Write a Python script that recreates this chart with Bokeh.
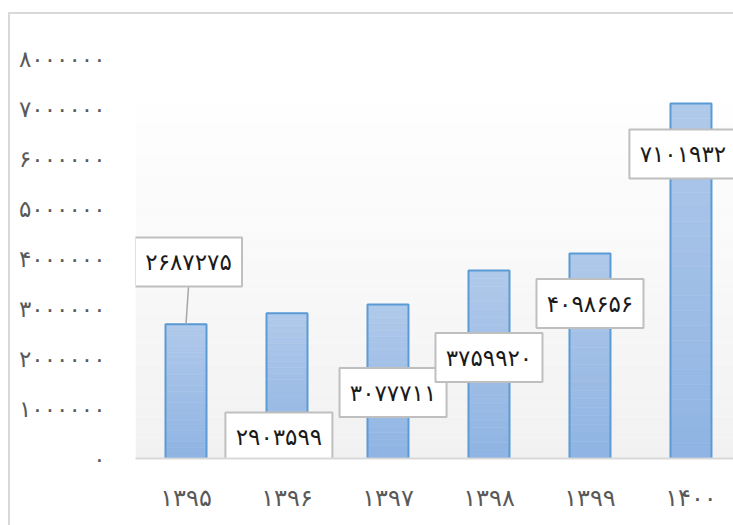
from bokeh.plotting import figure
from bokeh.models import Range1d, FixedTicker, BoxAnnotation, ColumnDataSource, InlineStyleSheet
from bokeh.core.properties import value
from bokeh.embed import file_html
from bokeh.resources import INLINE

# ---- data ----
years = ["1395", "1396", "1397", "1398", "1399", "1400"]
counts = [2687275, 2903599, 3077711, 3759920, 4098656, 7101932]
y_ticks = [0, 1000000, 2000000, 3000000, 4000000, 5000000, 6000000, 7000000, 8000000]

# label placement (Excel-style callouts): x offset in category units, centre y in value units
label_dx = [0.025, -0.08, 0.05, 0.0, 0.0, -0.08]
label_y = [3930000, 430000, 1320000, 2020000, 3100000, 6090000]

PERSIAN = str.maketrans("0123456789", "۰۱۲۳۴۵۶۷۸۹")


def fa(n):
    return str(n).translate(PERSIAN)


FONT = "DejaVu Sans"
Y_TOP = 8360000
PX_PER_UNIT = 418 / Y_TOP  # frame height / y-range span

p = figure(width=733, height=525, output_backend="svg", toolbar_location=None,
           x_range=Range1d(-0.5, 5.421), y_range=Range1d(0, Y_TOP),
           min_border_left=135, min_border_right=0, min_border_top=40, min_border_bottom=67)
p.outline_line_color = None
p.grid.grid_line_color = None
p.background_fill_color = "white"
p.border_fill_color = "white"

# outer chart border (only its top and left edges fall inside the crop)
p.stylesheets = [InlineStyleSheet(css="""
:host::after {
  content: "";
  position: absolute;
  left: 8px; top: 12px; width: 725px; height: 513px;
  background:
    linear-gradient(#d9d9d9, #d9d9d9) left top / 100% 2px no-repeat,
    linear-gradient(#d9d9d9, #d9d9d9) left top / 2px 100% no-repeat;
  pointer-events: none;
}
""")]


def mix(c1, c2, t):
    a = [int(c1[i:i + 2], 16) for i in (1, 3, 5)]
    b = [int(c2[i:i + 2], 16) for i in (1, 3, 5)]
    t = max(0.0, min(1.0, t))
    return "#%02x%02x%02x" % tuple(round(a[k] + (b[k] - a[k]) * t) for k in range(3))


# plot-area gradient (light grey at the bottom fading to white near the top)
NB = 40
fade_top = 7400000
for j in range(NB):
    b0 = Y_TOP * j / NB
    b1 = Y_TOP * (j + 1) / NB
    p.add_layout(BoxAnnotation(bottom=b0, top=b1,
                               fill_color=mix("#f1f1f1", "#ffffff", (b0 + b1) / 2 / fade_top),
                               fill_alpha=1, line_color=None, level="underlay"))

# bars with vertical gradient
xs = list(range(len(years)))
N = 24
gx, gb, gt, gc = [], [], [], []
for i, v in zip(xs, counts):
    for j in range(N):
        gx.append(i)
        gb.append(v * j / N)
        gt.append(v * (j + 1) / N)
        gc.append(mix("#8fb4e3", "#b0c9ea", (j + 0.5) / N))
p.vbar(source=ColumnDataSource(dict(x=gx, b=gb, t=gt, c=gc)),
       x="x", bottom="b", top="t", width=0.406,
       fill_color="c", line_color="c", line_width=0.5)
p.vbar(x=xs, top=counts, width=0.406, fill_color=None, line_color="#5b9bd5", line_width=2)

# leader lines where the label sits above its bar
half_box = 24.5 / PX_PER_UNIT
lx0, ly0, lx1, ly1 = [], [], [], []
for i, v, dx, ly in zip(xs, counts, label_dx, label_y):
    if ly - half_box > v:
        lx0.append(i + dx)
        ly0.append(ly - half_box)
        lx1.append(i)
        ly1.append(v)
p.segment(x0=lx0, y0=ly0, x1=lx1, y1=ly1, line_color="#a6a6a6", line_width=1.5)

# data label boxes
lxs = [i + dx for i, dx in zip(xs, label_dx)]
p.rect(x=lxs, y=label_y, width=107, height=49, width_units="screen", height_units="screen",
       fill_color="white", line_color="#bfbfbf", line_width=2)
p.text(x=lxs, y=label_y, text=[fa(v) for v in counts], text_align="center", text_baseline="middle",
       text_font=value(FONT), text_font_size="23px", text_color="#1a1a1a")

# axes
p.xaxis.ticker = FixedTicker(ticks=xs)
p.xaxis.major_label_overrides = {i: fa(y) for i, y in zip(xs, years)}
p.xaxis.axis_line_color = "#d9d9d9"
p.xaxis.axis_line_width = 2
p.xaxis.major_tick_line_color = None
p.xaxis.minor_tick_line_color = None
p.xaxis.major_tick_out = 0
p.xaxis.major_tick_in = 0
p.xaxis.major_label_text_font = FONT
p.xaxis.major_label_text_font_size = "24px"
p.xaxis.major_label_text_color = "#595959"
p.xaxis.major_label_standoff = 25

p.yaxis.ticker = FixedTicker(ticks=y_ticks)
p.yaxis.major_label_overrides = {t: fa(t) for t in y_ticks}
p.yaxis.axis_line_color = None
p.yaxis.major_tick_line_color = None
p.yaxis.minor_tick_line_color = None
p.yaxis.major_tick_out = 0
p.yaxis.major_tick_in = 0
p.yaxis.major_label_text_font = FONT
p.yaxis.major_label_text_font_size = "23px"
p.yaxis.major_label_text_color = "#595959"
p.yaxis.major_label_standoff = 30

open("out.html", "w").write(file_html(p, INLINE))
